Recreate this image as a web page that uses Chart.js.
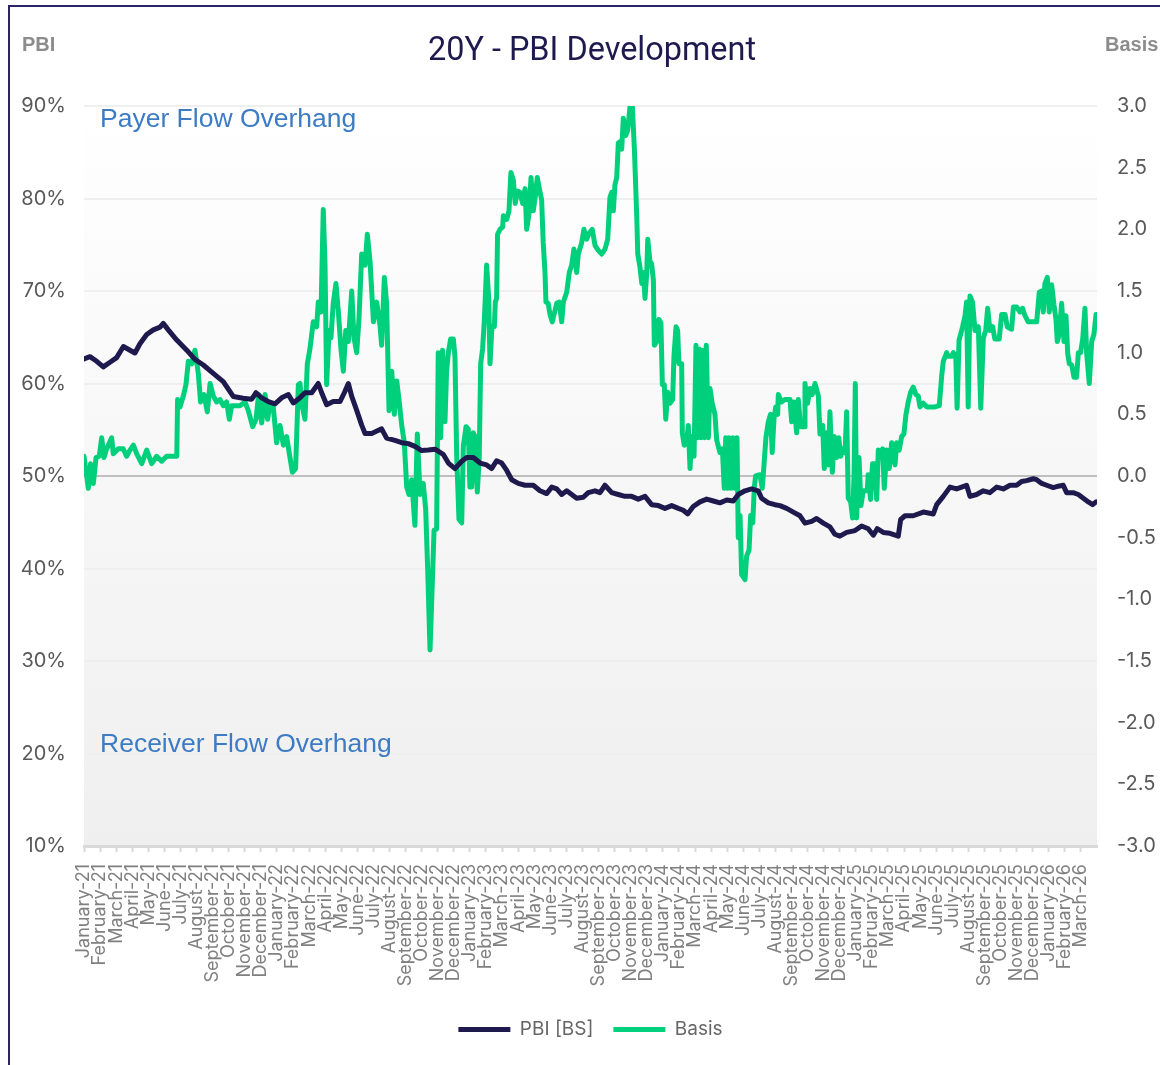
<!DOCTYPE html>
<html>
<head>
<meta charset="utf-8">
<title>20Y - PBI Development</title>
<script src="https://cdn.jsdelivr.net/npm/chart.js@4.4.1/dist/chart.umd.min.js"></script>
<style>
    html, body { margin: 0; padding: 0; background: #ffffff; }
    #wrap { position: relative; width: 1160px; height: 1065px; }
</style>
</head>
<body>
<div id="wrap"><canvas id="pbiChart" width="1160" height="1065"></canvas></div>
<script>
// ---- data (x = months since January-21) ----
const monthNames = ['January', 'February', 'March', 'April', 'May', 'June', 'July',
    'August', 'September', 'October', 'November', 'December'];
const years = ['21', '22', '23', '24', '25', '26'];
const monthCount = 63; // January-21 .. March-26

const tickLabels = [];
years.forEach(y => monthNames.forEach(m => {
    if (tickLabels.length < monthCount) tickLabels.push(m + '-' + y);
}));

const pbiMonths = [
    0.0, 0.37, 0.79, 1.2, 1.62, 2.03, 2.45, 2.86, 3.17, 3.48, 3.9, 4.31, 4.73, 4.93, 5.24, 5.77,
    6.39, 6.9, 7.42, 8.04, 8.66, 9.28, 9.9, 10.43, 10.7, 11.05, 11.46, 11.88, 12.29, 12.71, 13.02,
    13.43, 13.74, 14.16, 14.57, 14.78, 15.09, 15.5, 15.92, 16.19, 16.44, 16.65, 16.96, 17.27, 17.48,
    17.89, 18.51, 18.82, 19.34, 19.76, 20.17, 20.58, 21.0, 21.41, 21.83, 22.34, 22.66, 23.07, 23.49,
    23.8, 24.21, 24.63, 25.04, 25.35, 25.66, 25.98, 26.29, 26.6, 27.01, 27.43, 27.94, 28.36, 28.77,
    29.09, 29.4, 29.71, 30.02, 30.33, 30.64, 31.05, 31.36, 31.78, 32.09, 32.4, 32.82, 33.23, 33.64,
    34.06, 34.47, 34.89, 35.3, 35.72, 36.13, 36.55, 36.96, 37.27, 37.54, 37.89, 38.31, 38.73, 39.14,
    39.55, 39.97, 40.38, 40.69, 41.11, 41.52, 41.93, 42.14, 42.56, 42.97, 43.28, 43.7, 44.11, 44.53,
    44.84, 45.25, 45.56, 45.98, 46.39, 46.7, 47.01, 47.43, 47.95, 48.36, 48.77, 49.09, 49.33, 49.71,
    50.12, 50.64, 50.79, 51.06, 51.57, 52.2, 52.82, 53.03, 53.44, 53.86, 54.27, 54.58, 54.89, 55.1,
    55.51, 55.93, 56.34, 56.76, 57.17, 57.59, 58.0, 58.31, 58.62, 59.04, 59.25, 59.56, 59.87, 60.28,
    60.59, 60.9, 61.11, 61.52, 61.84, 62.15, 62.46, 62.73, 62.94
];
const pbiValues = [
    62.65, 62.9, 62.4, 61.8, 62.3, 62.8, 64.0, 63.6, 63.3, 64.3, 65.3, 65.8, 66.1, 66.5, 65.8, 64.7,
    63.6, 62.6, 62.0, 61.1, 60.2, 58.6, 58.4, 58.3, 59.0, 58.45, 58.05, 57.8, 58.45, 58.8, 57.9,
    58.45, 59.0, 59.0, 60.0, 59.0, 57.7, 58.05, 58.05, 59.0, 60.0, 58.6, 57.1, 55.5, 54.6,
    54.6, 55.1, 54.1, 53.85, 53.6, 53.5, 53.2, 52.75, 52.8, 52.9, 52.35, 51.4, 50.8, 51.6,
    52.0, 52.0, 51.4, 51.2, 50.8, 51.65, 51.4, 50.6, 49.6, 49.2, 49.0, 49.0, 48.4, 48.1,
    48.8, 48.6, 48.0, 48.4, 48.0, 47.6, 47.7, 48.2, 48.4, 48.2, 49.0, 48.2, 48.0, 47.8,
    47.8, 47.5, 47.8, 46.9, 46.8, 46.5, 46.8, 46.5, 46.3, 45.9, 46.7, 47.2, 47.5, 47.3,
    47.1, 47.4, 47.3, 48.0, 48.4, 48.6, 48.4, 47.6, 47.1, 46.9, 46.8, 46.5, 46.1, 45.7,
    44.9, 45.1, 45.4, 44.9, 44.5, 43.7, 43.5, 43.9, 44.1, 44.6, 44.3, 43.6, 44.3, 43.9,
    43.8, 43.5, 45.3, 45.7, 45.7, 46.1, 45.9, 46.9, 47.8, 48.8, 48.6, 48.8, 49.0, 47.8,
    48.0, 48.4, 48.2, 48.8, 48.6, 49.0, 49.0, 49.4, 49.5, 49.7, 49.6, 49.2, 49.0, 48.75,
    48.9, 49.0, 48.2, 48.2, 48.0, 47.6, 47.2, 46.9, 47.2
];

const basisMonths = [
    0.0, 0.27, 0.41, 0.58, 0.75, 0.95, 1.1, 1.24, 1.41, 1.72, 1.82, 2.13, 2.44, 2.65, 2.86, 3.07,
    3.28, 3.59, 3.9, 4.21, 4.52, 4.83, 5.14, 5.77, 5.82, 5.97, 6.18, 6.34, 6.49, 6.7, 6.9, 7.11,
    7.25, 7.46, 7.67, 7.84, 8.04, 8.25, 8.46, 8.66, 8.87, 9.04, 9.18, 9.7, 10.01, 10.22, 10.49, 10.7,
    10.86, 11.05, 11.26, 11.42, 11.57, 11.77, 11.98, 12.19, 12.4, 12.6, 12.81, 12.96, 13.16, 13.33,
    13.43, 13.58, 13.74, 13.89, 14.05, 14.26, 14.47, 14.57, 14.74, 14.88, 14.99, 15.09, 15.24, 15.36,
    15.5, 15.67, 15.82, 15.98, 16.13, 16.28, 16.44, 16.65, 16.79, 16.96, 17.1, 17.27, 17.48, 17.62,
    17.79, 18.0, 18.2, 18.41, 18.51, 18.68, 18.82, 18.97, 19.14, 19.3, 19.45, 19.59, 19.76, 19.92,
    20.07, 20.21, 20.38, 20.58, 20.73, 20.9, 21.1, 21.25, 21.37, 21.52, 21.62, 21.77, 21.93, 22.03,
    22.18, 22.3, 22.45, 22.55, 22.66, 22.8, 22.97, 23.07, 23.18, 23.32, 23.49, 23.59, 23.76, 23.9,
    24.0, 24.11, 24.21, 24.32, 24.46, 24.58, 24.67, 24.79, 24.9, 25.04, 25.17, 25.25, 25.37, 25.52,
    25.58, 25.66, 25.72, 25.87, 26.04, 26.08, 26.29, 26.43, 26.55, 26.7, 26.82, 26.95, 27.11, 27.28,
    27.43, 27.53, 27.67, 27.8, 27.94, 28.07, 28.19, 28.32, 28.46, 28.56, 28.67, 28.73, 28.87, 28.98,
    29.12, 29.29, 29.4, 29.56, 29.71, 29.81, 30.02, 30.18, 30.33, 30.47, 30.64, 30.74, 30.95, 31.09,
    31.26, 31.42, 31.61, 31.78, 31.98, 32.2, 32.4, 32.57, 32.71, 32.82, 32.92, 33.02, 33.13, 33.23,
    33.33, 33.44, 33.54, 33.69, 33.81, 33.96, 34.1, 34.23, 34.38, 34.44, 34.58, 34.69, 34.79, 34.89,
    35.0, 35.06, 35.2, 35.3, 35.41, 35.47, 35.62, 35.76, 35.88, 35.97, 36.09, 36.18, 36.3, 36.44,
    36.61, 36.69, 36.82, 36.92, 37.0, 37.17, 37.21, 37.33, 37.48, 37.58, 37.69, 37.79, 37.94, 38.06,
    38.17, 38.27, 38.37, 38.48, 38.58, 38.7, 38.83, 38.93, 39.07, 39.24, 39.35, 39.55, 39.7, 39.82,
    39.91, 40.01, 40.11, 40.24, 40.36, 40.49, 40.61, 40.69, 40.8, 40.9, 41.11, 41.21, 41.36, 41.46,
    41.59, 41.69, 41.77, 42.04, 42.18, 42.29, 42.41, 42.56, 42.7, 42.8, 42.91, 43.02, 43.14, 43.18,
    43.38, 43.59, 43.91, 44.01, 44.15, 44.32, 44.42, 44.57, 44.78, 44.84, 45.0, 45.15, 45.29, 45.46,
    45.67, 45.77, 45.94, 46.04, 46.19, 46.29, 46.39, 46.54, 46.66, 46.81, 46.94, 47.06, 47.18, 47.33,
    47.43, 47.53, 47.68, 47.8, 47.89, 47.97, 48.05, 48.2, 48.32, 48.46, 48.71, 48.77, 48.92, 49.04,
    49.19, 49.3, 49.4, 49.55, 49.67, 49.77, 49.92, 50.08, 50.23, 50.44, 50.54, 50.7, 50.85, 50.99,
    51.12, 51.26, 51.41, 51.57, 51.74, 51.88, 51.99, 52.2, 52.41, 52.92, 53.19, 53.34, 53.44, 53.65,
    53.75, 53.96, 54.06, 54.22, 54.3, 54.42, 54.64, 54.79, 54.89, 54.99, 55.1, 55.26, 55.41, 55.62,
    55.77, 55.93, 56.08, 56.2, 56.34, 56.51, 56.65, 56.92, 57.07, 57.28, 57.42, 57.69, 57.8, 58.0,
    58.21, 58.37, 58.52, 58.72, 59.25, 59.41, 59.56, 59.66, 59.76, 59.91, 60.03, 60.18, 60.32, 60.45,
    60.53, 60.65, 60.8, 60.95, 61.07, 61.18, 61.28, 61.43, 61.57, 61.73, 61.84, 61.98, 62.11, 62.25,
    62.36, 62.52, 62.67, 62.81, 62.94
];
const basisValues = [
    0.16, -0.10, 0.10, -0.06, 0.15, 0.16, 0.31, 0.15, 0.22, 0.31, 0.18, 0.22, 0.22, 0.16, 0.21, 0.25,
    0.18, 0.10, 0.21, 0.10, 0.16, 0.12, 0.16, 0.16, 0.62, 0.56, 0.65, 0.74, 0.93, 0.91, 1.02, 0.83,
    0.60, 0.66, 0.52, 0.75, 0.65, 0.60, 0.62, 0.57, 0.60, 0.46, 0.57, 0.57, 0.60, 0.53, 0.40, 0.46,
    0.66, 0.43, 0.66, 0.46, 0.59, 0.56, 0.27, 0.41, 0.25, 0.32, 0.15, 0.03, 0.06, 0.74,
    0.75, 0.56, 0.46, 0.91, 1.03, 1.25, 1.21, 1.41, 1.33, 2.16, 1.71, 0.74, 1.18, 1.12,
    1.40, 1.56, 1.33, 1.03, 0.85, 1.18, 1.09, 1.50, 1.12, 1.00, 1.27, 1.80, 1.71, 1.96,
    1.74, 1.25, 1.41, 1.22, 1.06, 1.61, 1.40, 0.53, 0.85, 0.50, 0.77, 0.62, 0.41, 0.27,
    -0.09, -0.15, -0.03, -0.40, 0.34, -0.15, -0.06, -0.27, -0.74, -1.41, -1.03, -0.44, -0.43, 1.00,
    0.31, 1.02, 0.44, 0.85, 1.00, 1.11, 1.11, 0.97, 0.15, -0.35, -0.38, 0.24, 0.40, 0.38,
    -0.09, -0.09, 0.35, 0.32, -0.13, 0.15, 0.91, 1.03, 1.27, 1.71, 1.44, 0.91, 1.21, 1.21,
    1.41, 1.44, 1.96, 2.00, 2.02, 2.11, 2.08, 2.15, 2.46, 2.40, 2.21, 2.31, 2.30, 2.21,
    2.33, 2.00, 2.12, 2.42, 2.15, 2.27, 2.42, 2.33, 2.24, 1.89, 1.65, 1.41, 1.40, 1.31,
    1.25, 1.34, 1.40, 1.41, 1.25, 1.41, 1.49, 1.65, 1.71, 1.84, 1.65, 1.80, 1.89, 2.00,
    1.92, 1.97, 2.00, 1.87, 1.83, 1.80, 1.84, 1.92, 2.26, 2.30, 2.15, 2.36, 2.42, 2.70,
    2.71, 2.65, 2.90, 2.76, 2.80, 3.00, 3.00, 2.65, 2.09, 1.80, 1.69, 1.56, 1.65, 1.44,
    1.65, 1.92, 1.74, 1.72, 1.59, 1.06, 1.09, 1.27, 1.24, 0.74, 0.74, 0.46, 0.68, 0.59,
    0.62, 0.97, 1.21, 1.18, 0.91, 0.91, 0.35, 0.25, 0.27, 0.41, 0.06, 0.32, 0.16, 1.06,
    0.31, 1.03, 0.31, 1.02, 0.31, 1.06, 0.31, 0.71, 0.59, 0.50, 0.29, 0.19, 0.22, -0.10,
    0.31, -0.10, 0.31, -0.10, 0.31, -0.10, 0.31, -0.50, -0.32, -0.80, -0.84, -0.65, -0.60, -0.32,
    -0.38, -0.09, 0.00, 0.01, -0.10, 0.09, 0.31, 0.44, 0.50, 0.19, 0.46, 0.56, 0.50, 0.66,
    0.60, 0.62, 0.62, 0.44, 0.60, 0.35, 0.62, 0.40, 0.40, 0.75, 0.59, 0.71, 0.66, 0.75,
    0.65, 0.34, 0.41, 0.06, 0.35, 0.09, 0.52, 0.03, 0.32, 0.15, 0.31, 0.16, 0.22, 0.19,
    0.52, -0.18, -0.21, -0.34, 0.00, 0.75, -0.34, 0.15, -0.24, -0.12, -0.12, 0.01, -0.19, 0.10,
    0.10, -0.19, 0.21, 0.15, 0.22, -0.10, 0.21, 0.06, 0.27, 0.09, 0.27, 0.21, 0.32, 0.34,
    0.50, 0.60, 0.68, 0.72, 0.66, 0.65, 0.56, 0.59, 0.56, 0.56, 0.57, 0.81, 0.93, 1.00,
    0.97, 0.97, 1.00, 0.97, 0.55, 1.10, 1.21, 1.30, 1.41, 0.56, 1.46, 1.41, 1.18, 1.21,
    0.55, 1.12, 1.18, 1.36, 1.18, 1.21, 1.11, 1.11, 1.31, 1.31, 1.21, 1.19, 1.37, 1.37,
    1.33, 1.36, 1.30, 1.25, 1.25, 1.49, 1.50, 1.33, 1.56, 1.61, 1.33, 1.55, 1.39, 1.27,
    1.09, 1.15, 1.40, 1.09, 1.30, 0.99, 0.91, 0.90, 0.80, 0.80, 1.00, 1.00, 1.11, 1.36,
    0.99, 0.75, 1.09, 1.15, 1.31
];

const pbiTicks = [10, 20, 30, 40, 50, 60, 70, 80, 90];

// ---- colours / fonts ----
const NAVY = '#1f1a4d';
const GREEN = '#00cf7c';
const TEXT_GREY = '#595959';
const NOTE_BLUE = '#3d7cc4';

// Hintergrund-Verlauf im Plotbereich
const backgroundPlugin = {
    id: 'plotBackground',
    beforeDraw(chart) {
        const { ctx, chartArea: a } = chart;
        const g = ctx.createLinearGradient(0, a.top, 0, a.bottom);
        g.addColorStop(0, '#ffffff');
        g.addColorStop(0.12, '#fdfdfd');
        g.addColorStop(1, '#efefef');
        ctx.save();
        ctx.fillStyle = g;
        ctx.fillRect(a.left, a.top, a.right - a.left, a.bottom - a.top);
        ctx.restore();
    }
};

// Titel, Achsentitel, Beschriftungen, Rahmen
const decorPlugin = {
    id: 'decor',
    afterDraw(chart) {
        const { ctx, chartArea: a } = chart;
        ctx.save();

        ctx.strokeStyle = '#2b2466';
        ctx.lineWidth = 2;
        ctx.beginPath();
        ctx.moveTo(9, 1065);
        ctx.lineTo(9, 6);
        ctx.lineTo(1160, 6);
        ctx.stroke();

        ctx.fillStyle = NAVY;
        ctx.font = '33px Roboto';
        ctx.textAlign = 'center';
        ctx.textBaseline = 'alphabetic';
        ctx.fillText('20Y - PBI Development', 592, 60, 328);

        ctx.fillStyle = '#8c8c8c';
        ctx.font = 'bold 20px "Liberation Sans"';
        ctx.textAlign = 'left';
        ctx.fillText('PBI', 22, 51);
        ctx.fillText('Basis', 1105, 51);

        ctx.fillStyle = NOTE_BLUE;
        ctx.font = '26.5px "Liberation Sans"';
        ctx.fillText('Payer Flow Overhang', 100, 127);
        ctx.fillText('Receiver Flow Overhang', 100, 752);

        ctx.restore();
    }
};

const ctx = document.getElementById('pbiChart');

new Chart(ctx, {
    type: 'line',
    data: {
        datasets: [
            {
                label: 'PBI [BS]',
                data: pbiMonths.map((m, i) => ({ x: m, y: pbiValues[i] })),
                yAxisID: 'y',
                borderColor: NAVY,
                backgroundColor: NAVY,
                borderWidth: 5,
                borderCapStyle: 'round',
                borderJoinStyle: 'round',
                pointRadius: 0,
                tension: 0
            },
            {
                label: 'Basis',
                data: basisMonths.map((m, i) => ({ x: m, y: basisValues[i] })),
                yAxisID: 'y1',
                borderColor: GREEN,
                backgroundColor: GREEN,
                borderWidth: 5,
                borderCapStyle: 'round',
                borderJoinStyle: 'round',
                pointRadius: 0,
                tension: 0
            }
        ]
    },
    options: {
        responsive: false,
        animation: false,
        devicePixelRatio: 1,
        layout: { padding: { top: 106, left: 0, right: 0, bottom: 16 } },
        plugins: {
            legend: {
                position: 'bottom',
                fullSize: false,
                labels: {
                    usePointStyle: true,
                    pointStyle: 'line',
                    pointStyleWidth: 52,
                    padding: 20,
                    color: '#666666',
                    font: { family: 'Inter', size: 19 }
                }
            },
            tooltip: { enabled: false }
        },
        scales: {
            x: {
                type: 'linear',
                min: 0,
                max: monthCount,
                afterFit(scale) { scale.height = 154; },
                afterBuildTicks(scale) {
                    scale.ticks = tickLabels.map((_, i) => ({ value: i }));
                },
                ticks: {
                    autoSkip: false,
                    minRotation: 90,
                    maxRotation: 90,
                    padding: 12,
                    color: '#808080',
                    font: { family: 'Inter', size: 18 },
                    callback: (v) => tickLabels[v]
                },
                grid: {
                    drawOnChartArea: false,
                    drawTicks: true,
                    tickLength: 6,
                    tickWidth: 2,
                    tickColor: '#d9d9d9'
                },
                border: { color: '#d9d9d9', width: 3 }
            },
            y: {
                position: 'left',
                min: 10,
                max: 90,
                afterFit(scale) { scale.width = 84; },
                afterBuildTicks(scale) {
                    scale.ticks = pbiTicks.map(v => ({ value: v }));
                },
                ticks: {
                    padding: 18,
                    color: TEXT_GREY,
                    font: { family: 'Inter', size: 20 },
                    callback: (v) => v + '%'
                },
                grid: {
                    drawTicks: false,
                    lineWidth: 2,
                    color: (c) => (c.tick && c.tick.value === 50) ? '#bfbfbf' : '#efefef'
                },
                border: { display: false }
            },
            y1: {
                position: 'right',
                min: -3,
                max: 3,
                afterFit(scale) { scale.width = 63; },
                ticks: {
                    stepSize: 0.5,
                    padding: 20,
                    color: TEXT_GREY,
                    font: { family: 'Inter', size: 20 },
                    callback: (v) => v.toFixed(1)
                },
                grid: { display: false, drawTicks: false },
                border: { display: false }
            }
        }
    },
    plugins: [backgroundPlugin, decorPlugin]
});
</script>
</body>
</html>
